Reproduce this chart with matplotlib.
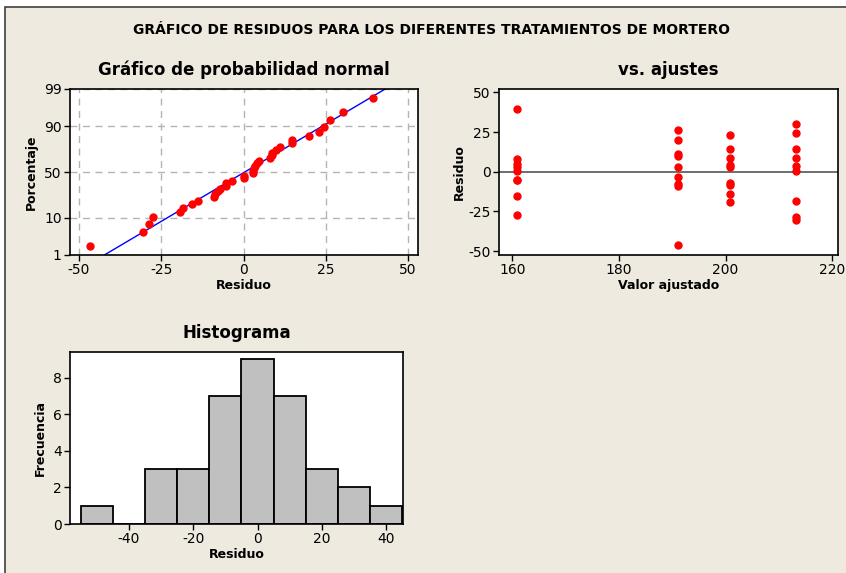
from statistics import NormalDist
import numpy as np
import matplotlib
matplotlib.use("Agg")
import matplotlib.pyplot as plt
from matplotlib.patches import Rectangle

plt.rcParams["axes.unicode_minus"] = False

# valores ajustados de cada tratamiento y sus residuos
ajustados = [160.9, 191.1, 200.8, 213.3]
res_160 = [39.4, 8.0, 4.6, 3.0, 0.2, -5.2, -5.4, -15.6, -27.6]
res_191 = [26.4, 20.0, 11.2, 9.8, 3.2, -3.4, -7.8, -9.0, -46.5]
res_200 = [22.8, 14.6, 8.6, 4.0, 3.0, -7.0, -8.6, -13.8, -19.4]
res_213 = [30.2, 24.6, 14.6, 8.6, 3.4, 0.2, -18.4, -28.6, -30.4]
grupos = [res_160, res_191, res_200, res_213]

bordes_hist = [-55, -45, -35, -25, -15, -5, 5, 15, 25, 35, 45]
pct_ticks = [1, 10, 50, 90, 99]

W, H = 846, 573
BG = "#eeeae0"

def caja(l, t, r, b):
    return [l / W, 1 - b / H, (r - l) / W, (b - t) / H]

def estilo(ax):
    for s in ax.spines.values():
        s.set_linewidth(1.2)
        s.set_color("black")
    ax.tick_params(direction="out", length=4, width=1, labelsize=10, pad=2)

fig = plt.figure(figsize=(W / 100, H / 100), dpi=100, facecolor="white")
fig.patches.append(Rectangle((5 / W, -0.1), 1.1, 1.1 - 7 / H, transform=fig.transFigure,
                             facecolor=BG, edgecolor="#404040", linewidth=1.2, zorder=-10))

fig.text(431 / W, 1 - 30 / H, "GRÁFICO DE RESIDUOS PARA LOS DIFERENTES TRATAMIENTOS DE MORTERO",
         ha="center", va="center", fontsize=10, fontweight="bold")

todos = np.concatenate(grupos)
nd = NormalDist()

# grafico de probabilidad normal
ax1 = fig.add_axes(caja(70, 89, 418, 255))
estilo(ax1)
orden = np.sort(todos)
n = len(orden)
z = [nd.inv_cdf((i + 1 - 0.3) / (n + 0.4)) for i in range(n)]
mu, sd = todos.mean(), todos.std(ddof=1)
zl = np.array([nd.inv_cdf(0.005), nd.inv_cdf(0.995)])
ax1.plot(mu + sd * zl, zl, color="blue", lw=1, zorder=2)
ax1.plot(orden, z, "o", color="red", ms=5, zorder=3)
zt = [nd.inv_cdf(p / 100) for p in pct_ticks]
ax1.set_yticks(zt)
ax1.set_yticklabels([str(p) for p in pct_ticks])
ax1.set_ylim(zt[0], zt[-1])
ax1.set_xticks([-50, -25, 0, 25, 50])
ax1.set_xlim(-52.7, 53)
ax1.grid(True, ls=(0, (5, 4)), color="#b4b4b4", lw=1)
ax1.set_axisbelow(True)
ax1.set_xlabel("Residuo", fontsize=9, fontweight="bold", labelpad=1)
ax1.set_ylabel("Porcentaje", fontsize=9, fontweight="bold", labelpad=4)
ax1.set_title("Gráfico de probabilidad normal", fontsize=12, fontweight="bold", pad=10)

# residuos vs ajustes
ax2 = fig.add_axes(caja(499, 89, 838, 255))
estilo(ax2)
ax2.axhline(0, color="#555555", lw=1.2, zorder=1)
for xv, r in zip(ajustados, grupos):
    ax2.plot([xv] * len(r), r, "o", color="red", ms=5, zorder=3)
ax2.set_xlim(157.5, 221.1)
ax2.set_ylim(-52.5, 52.1)
ax2.set_xticks([160, 180, 200, 220])
ax2.set_yticks([-50, -25, 0, 25, 50])
ax2.set_xlabel("Valor ajustado", fontsize=9, fontweight="bold", labelpad=1)
ax2.set_ylabel("Residuo", fontsize=9, fontweight="bold", labelpad=2)
ax2.set_title("vs. ajustes", fontsize=12, fontweight="bold", pad=10)

# histograma
ax3 = fig.add_axes(caja(70, 352, 403, 524))
estilo(ax3)
ax3.hist(todos, bins=bordes_hist, color="#c0c0c0", edgecolor="black", linewidth=1.3)
ax3.set_xlim(-58.3, 45.2)
ax3.set_ylim(0, 9.4)
ax3.set_xticks([-40, -20, 0, 20, 40])
ax3.set_yticks([0, 2, 4, 6, 8])
ax3.set_xlabel("Residuo", fontsize=9, fontweight="bold", labelpad=1)
ax3.set_ylabel("Frecuencia", fontsize=9, fontweight="bold", labelpad=4)
ax3.set_title("Histograma", fontsize=12, fontweight="bold", pad=10)

fig.savefig("out.png", dpi=100, facecolor=fig.get_facecolor())
